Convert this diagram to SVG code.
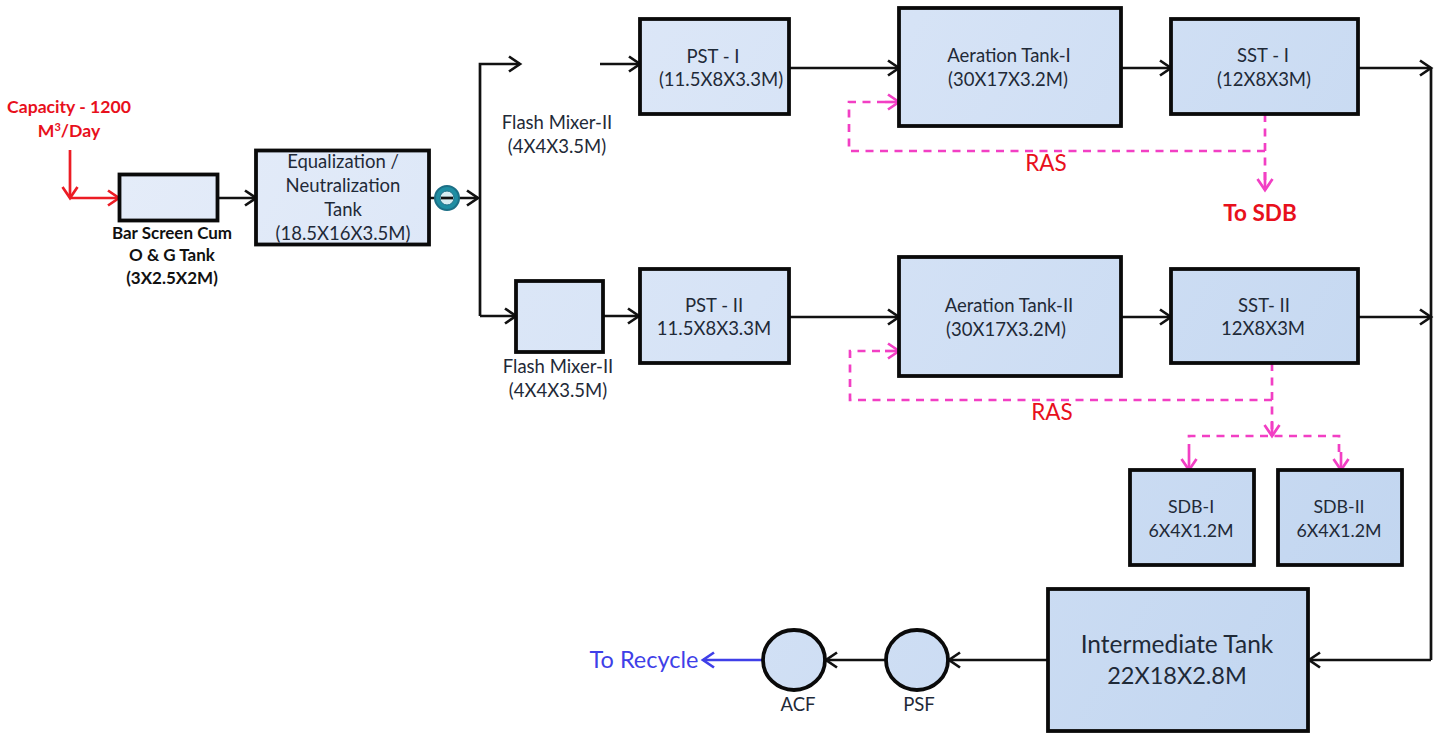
<svg xmlns="http://www.w3.org/2000/svg" width="1445" height="733" viewBox="0 0 1445 733">
<style>
text{font-family:Lato,"Open Sans","Liberation Sans",sans-serif;text-anchor:middle;fill:#1f2a38;font-size:18.500px}
.box{fill:url(#g);stroke:#0a0a0a;stroke-width:3.800}
.k{fill:none;stroke:#111;stroke-width:2.700}
.p{fill:none;stroke:#f23fc4;stroke-width:2.700;stroke-dasharray:8 6.500}
.ph{fill:none;stroke:#f23fc4;stroke-width:2.700}
.r{fill:none;stroke:#ec1c24;stroke-width:2.700}
text.red{fill:#e8101c}
.b{font-weight:700}
text.bs{fill:#111;font-size:17px;font-weight:700}
text.cap{font-size:17.600px;font-weight:700}
text.ras{font-size:22.500px}
text.sdb{font-size:17.800px}
</style>
<defs>
<linearGradient id="g" gradientUnits="userSpaceOnUse" x1="100" y1="60" x2="1300" y2="740">
<stop offset="0" stop-color="#e6edf9"/><stop offset="0.500" stop-color="#d6e3f6"/><stop offset="1" stop-color="#c2d6f0"/>
</linearGradient>
<marker id="ak" markerUnits="userSpaceOnUse" markerWidth="24" markerHeight="24" refX="18" refY="12" orient="auto"><path d="M7 4.500L18 12L7 19.500" fill="none" stroke="#111" stroke-width="2.700"/></marker>
<marker id="ar" markerUnits="userSpaceOnUse" markerWidth="24" markerHeight="24" refX="18" refY="12" orient="auto"><path d="M7 4.500L18 12L7 19.500" fill="none" stroke="#ec1c24" stroke-width="2.700"/></marker>
<marker id="ap" markerUnits="userSpaceOnUse" markerWidth="24" markerHeight="24" refX="18" refY="12" orient="auto"><path d="M7 4.500L18 12L7 19.500" fill="none" stroke="#f23fc4" stroke-width="2.700"/></marker>
<marker id="ab" markerUnits="userSpaceOnUse" markerWidth="24" markerHeight="24" refX="18" refY="12" orient="auto"><path d="M7 4.500L18 12L7 19.500" fill="none" stroke="#3f3fe8" stroke-width="2.700"/></marker>
</defs>

<g id="connectors">
<path class="r" d="M70 150V198" marker-end="url(#ar)"/>
<path class="r" d="M70 198H119" marker-end="url(#ar)"/>
<path class="k" d="M218 198H256" marker-end="url(#ak)"/>
<path class="k" d="M429 198H478" marker-end="url(#ak)"/>
<path class="k" d="M480 316V64H520" marker-end="url(#ak)"/>
<path class="k" d="M480 316H516" marker-end="url(#ak)"/>
<path class="k" d="M600 64H640" marker-end="url(#ak)"/>
<path class="k" d="M603 316H639" marker-end="url(#ak)"/>
<path class="k" d="M789 68H899" marker-end="url(#ak)"/>
<path class="k" d="M789 317H899" marker-end="url(#ak)"/>
<path class="k" d="M1121 68H1171" marker-end="url(#ak)"/>
<path class="k" d="M1121 317H1171" marker-end="url(#ak)"/>
<path class="k" d="M1358 68H1431" marker-end="url(#ak)"/>
<path class="k" d="M1358 317H1431" marker-end="url(#ak)"/>
<path class="k" d="M1431 68V660"/>
<path class="k" d="M1431 660H1309" marker-end="url(#ak)"/>
<path class="k" d="M1048 660H949" marker-end="url(#ak)"/>
<path class="k" d="M886 660H826" marker-end="url(#ak)"/>
<path stroke="#3f3fe8" stroke-width="2.700" fill="none" d="M763 660H703" marker-end="url(#ab)"/>
<path class="p" d="M1265 114V190"/><path class="ph" d="M1265 172V190" marker-end="url(#ap)"/>
<path class="p" d="M1265 151H849V102H885"/><path class="ph" d="M885 102H899" marker-end="url(#ap)"/>
<path class="p" d="M1272 363V436"/><path class="ph" d="M1272 422V436" marker-end="url(#ap)"/>
<path class="p" d="M1272 400H850V351H885"/><path class="ph" d="M885 351H899" marker-end="url(#ap)"/>
<path class="p" d="M1339 452V436H1189V452"/>
<path class="ph" d="M1189 452V470" marker-end="url(#ap)"/>
<path class="ph" d="M1341 452V470" marker-end="url(#ap)"/>
</g>

<g id="capacity"><text class="red cap" x="69" y="113">Capacity - 1200</text><text class="red cap" x="69" y="137">M<tspan font-size="11" dy="-6">3</tspan><tspan dy="6">/Day</tspan></text></g>
<g id="bar-screen"><rect class="box" x="119.500" y="174.500" width="98" height="46"/><text class="bs" x="172" y="239">Bar Screen Cum</text><text class="bs" x="172" y="261">O &amp; G Tank</text><text class="bs" x="172" y="284">(3X2.5X2M)</text></g>
<g id="equalization"><rect class="box" x="256" y="150.500" width="173" height="94"/><text x="343" y="168">Equalization /</text><text x="343" y="192">Neutralization</text><text x="343" y="216">Tank</text><text x="343" y="240">(18.5X16X3.5M)</text></g>
<g id="pump"><circle cx="447" cy="198" r="12" fill="#1f8ea3" stroke="#1c6f86" stroke-width="2"/><circle cx="447" cy="198" r="7" fill="#d8edf2" stroke="#1f6f86" stroke-width="1"/><path d="M441 198H453" stroke="#111" stroke-width="2.700"/></g>
<g id="flash-mixer-top"><text x="557" y="129">Flash Mixer-II</text><text x="557" y="153">(4X4X3.5M)</text></g>
<g id="flash-mixer-bottom"><rect class="box" x="516" y="281" width="87" height="71"/><text x="558" y="373">Flash Mixer-II</text><text x="558" y="397">(4X4X3.5M)</text></g>
<g id="pst-1"><rect class="box" x="640" y="19" width="149" height="95"/><text x="713" y="63">PST - I</text><text x="721" y="86">(11.5X8X3.3M)</text></g>
<g id="aeration-1"><rect class="box" x="899" y="8" width="222" height="118"/><text x="1009" y="62">Aeration Tank-I</text><text x="1008" y="86">(30X17X3.2M)</text></g>
<g id="sst-1"><rect class="box" x="1171" y="19" width="187" height="95"/><text x="1263" y="62">SST - I</text><text x="1264" y="86">(12X8X3M)</text></g>
<g id="ras-1"><text class="red ras" x="1046" y="171">RAS</text></g>
<g id="to-sdb"><text class="red b" x="1260" y="221" style="font-size:22.500px">To SDB</text></g>
<g id="pst-2"><rect class="box" x="640" y="269" width="149" height="94"/><text x="714" y="312">PST - II</text><text x="714" y="335">11.5X8X3.3M</text></g>
<g id="aeration-2"><rect class="box" x="899" y="257" width="222" height="119"/><text x="1009" y="312">Aeration Tank-II</text><text x="1006" y="336">(30X17X3.2M)</text></g>
<g id="sst-2"><rect class="box" x="1171" y="269" width="187" height="94"/><text x="1264" y="312">SST- II</text><text x="1263" y="335">12X8X3M</text></g>
<g id="ras-2"><text class="red ras" x="1052" y="420">RAS</text></g>
<g id="sdb-1"><rect class="box" x="1130" y="470" width="124" height="95"/><text class="sdb" x="1191" y="513">SDB-I</text><text class="sdb" x="1191" y="537">6X4X1.2M</text></g>
<g id="sdb-2"><rect class="box" x="1278" y="470" width="124" height="95"/><text class="sdb" x="1339" y="513">SDB-II</text><text class="sdb" x="1339" y="537">6X4X1.2M</text></g>
<g id="intermediate"><rect class="box" x="1048" y="589" width="260" height="142"/><text x="1177" y="653" style="font-size:24.500px">Intermediate Tank</text><text x="1177" y="684" style="font-size:23.500px">22X18X2.8M</text></g>
<g id="psf"><ellipse class="box" cx="917" cy="660" rx="31" ry="30"/><text x="919" y="711">PSF</text></g>
<g id="acf"><ellipse class="box" cx="794" cy="660" rx="31" ry="30"/><text x="798" y="711">ACF</text></g>
<g id="recycle"><text x="644" y="668" style="fill:#3f3fe8;font-size:23.500px">To Recycle</text></g>
</svg>
